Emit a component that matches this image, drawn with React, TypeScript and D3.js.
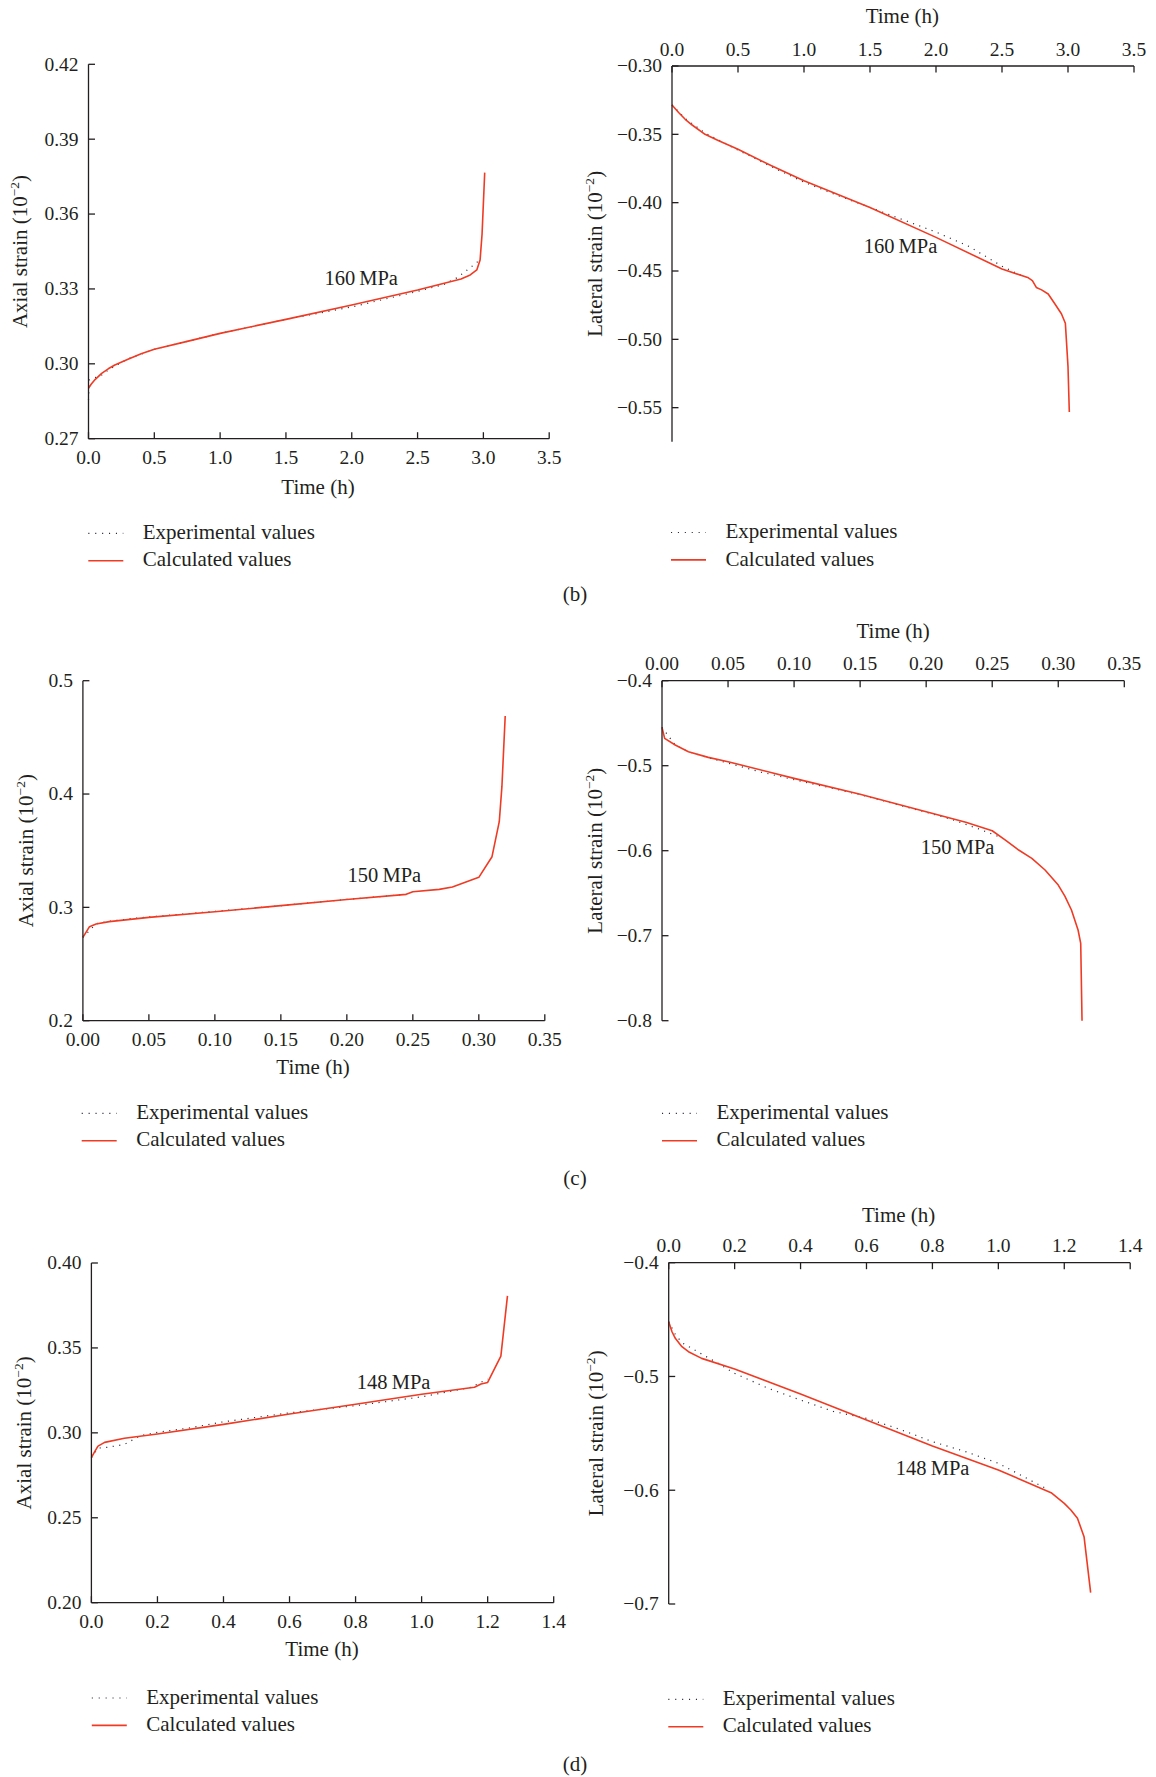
import React from "react";
import * as d3 from "d3";

type Pt = [number, number];

// ---- Data (time in h, strain in 10^-2) ----
const axial160Calc: Pt[] = [[0,0.2902],[0.02,0.2918],[0.05,0.2937],[0.1,0.2962],[0.15,0.298],[0.2,0.2995],[0.3,0.3018],[0.4,0.304],[0.5,0.3058],[0.75,0.309],[1.0,0.3122],[1.5,0.3178],[2.0,0.3236],[2.5,0.3296],[2.83,0.334],[2.9,0.3356],[2.95,0.3376],[2.975,0.3416],[2.99,0.352],[3.01,0.3766]];
const axial160Exp: Pt[] = [[0,0.2855],[0.005,0.2935],[0.1,0.2955],[0.15,0.2975],[0.3,0.302],[0.5,0.3058],[0.75,0.309],[1.0,0.3122],[1.5,0.3178],[2.0,0.3228],[2.5,0.329],[2.7,0.3318],[2.8,0.3345],[2.9,0.3385],[2.97,0.3415]];
const lateral160Calc: Pt[] = [[0,-0.3285],[0.05,-0.334],[0.1,-0.339],[0.15,-0.343],[0.25,-0.35],[0.35,-0.3545],[0.5,-0.3609],[0.75,-0.3728],[1.0,-0.384],[1.5,-0.4035],[2.0,-0.4254],[2.5,-0.4485],[2.7,-0.455],[2.73,-0.457],[2.76,-0.462],[2.8,-0.4638],[2.85,-0.4668],[2.9,-0.474],[2.95,-0.4813],[2.98,-0.4882],[3.0,-0.52],[3.01,-0.5532]];
const lateral160Exp: Pt[] = [[0,-0.3285],[0.1,-0.3385],[0.25,-0.349],[0.5,-0.3615],[0.75,-0.3735],[1.0,-0.385],[1.25,-0.3945],[1.5,-0.4035],[1.75,-0.4125],[2.0,-0.4215],[2.25,-0.432],[2.5,-0.4465],[2.65,-0.4535]];
const axial150Calc: Pt[] = [[0,0.2735],[0.005,0.283],[0.01,0.2853],[0.02,0.2874],[0.05,0.2912],[0.1,0.2962],[0.15,0.3015],[0.2,0.307],[0.245,0.3115],[0.25,0.3138],[0.27,0.3159],[0.28,0.318],[0.3,0.3265],[0.31,0.3447],[0.3155,0.3756],[0.3175,0.4065],[0.32,0.4688]];
const axial150Exp: Pt[] = [[0,0.2735],[0.01,0.2855],[0.02,0.2878],[0.04,0.2905],[0.06,0.2925],[0.08,0.2945],[0.1,0.2965],[0.15,0.3015],[0.2,0.307],[0.245,0.3115]];
const lateral150Calc: Pt[] = [[0,-0.4549],[0.002,-0.4678],[0.01,-0.4757],[0.02,-0.4835],[0.035,-0.4902],[0.05,-0.4953],[0.1,-0.5149],[0.15,-0.5337],[0.2,-0.5541],[0.23,-0.5665],[0.25,-0.5765],[0.26,-0.5875],[0.27,-0.5992],[0.28,-0.609],[0.29,-0.6227],[0.3,-0.6404],[0.305,-0.6535],[0.31,-0.6698],[0.315,-0.6933],[0.317,-0.709],[0.318,-0.8]];
const lateral150Exp: Pt[] = [[0,-0.4549],[0.01,-0.4757],[0.02,-0.4835],[0.035,-0.4905],[0.05,-0.497],[0.075,-0.5075],[0.1,-0.5165],[0.15,-0.534],[0.2,-0.5548],[0.22,-0.5635],[0.24,-0.5745],[0.255,-0.5835]];
const axial148Calc: Pt[] = [[0,0.2854],[0.01,0.2889],[0.02,0.2922],[0.04,0.2944],[0.1,0.2968],[0.2,0.2993],[0.4,0.305],[0.6,0.3111],[0.8,0.3168],[1.0,0.3227],[1.16,0.3268],[1.18,0.3288],[1.2,0.3297],[1.24,0.3452],[1.26,0.3806]];
const axial148Exp: Pt[] = [[0,0.2854],[0.02,0.291],[0.05,0.2915],[0.1,0.2932],[0.15,0.2985],[0.2,0.3003],[0.3,0.303],[0.4,0.3065],[0.6,0.3118],[0.8,0.316],[1.0,0.3212],[1.15,0.3268],[1.2,0.3317]];
const lateral148Calc: Pt[] = [[0,-0.4519],[0.01,-0.4607],[0.02,-0.4665],[0.04,-0.4738],[0.06,-0.4782],[0.1,-0.4841],[0.2,-0.4935],[0.4,-0.5154],[0.6,-0.5383],[0.8,-0.5611],[1.0,-0.5822],[1.16,-0.6022],[1.2,-0.6115],[1.22,-0.6174],[1.24,-0.6247],[1.26,-0.6408],[1.28,-0.69]];
const lateral148Exp: Pt[] = [[0,-0.4519],[0.02,-0.463],[0.04,-0.4703],[0.1,-0.4803],[0.15,-0.4885],[0.2,-0.4973],[0.3,-0.5102],[0.4,-0.5207],[0.5,-0.5308],[0.6,-0.5368],[0.7,-0.5463],[0.8,-0.5573],[0.9,-0.566],[1.0,-0.5763],[1.14,-0.5978]];

// tick values
const xTicks35 = [0, 0.5, 1.0, 1.5, 2.0, 2.5, 3.0, 3.5];
const xTicks035 = [0, 0.05, 0.1, 0.15, 0.2, 0.25, 0.3, 0.35];
const xTicks14 = [0, 0.2, 0.4, 0.6, 0.8, 1.0, 1.2, 1.4];
const yTicksAx160 = [0.27, 0.3, 0.33, 0.36, 0.39, 0.42];
const yTicksLat160 = [-0.3, -0.35, -0.4, -0.45, -0.5, -0.55];
const yTicksAx150 = [0.2, 0.3, 0.4, 0.5];
const yTicksLat150 = [-0.4, -0.5, -0.6, -0.7, -0.8];
const yTicksAx148 = [0.2, 0.25, 0.3, 0.35, 0.4];
const yTicksLat148 = [-0.4, -0.5, -0.6, -0.7];

const FONT = "'Liberation Serif', 'Times New Roman', serif";
const INK = "#231f20";
const RED = "#ef3b24";
const DOT = "#2a2a3a";

interface PanelProps {
  x0: number; x1: number;
  yTop: number; yBot: number;
  xDomain: [number, number];
  yDomain: [number, number];
  xTicks: number[]; xFmt: (v: number) => string;
  yTicks: number[]; yFmt: (v: number) => string;
  axisTop: boolean;
  calc: Pt[]; exp: Pt[];
  yTitle: string; yTitleX: number;
  xTitleX: number; xTitleY: number;
  label: string; labelX: number; labelY: number;
  legX: number; legY: number;
}

const fmtMinus = (s: string) => s.replace("-", "\u2212");

function Panel(p: PanelProps) {
  const x = d3.scaleLinear().domain(p.xDomain).range([p.x0, p.x1]);
  const y = d3.scaleLinear().domain(p.yDomain).range([p.yTop, p.yBot]);
  const line = d3.line<Pt>().x((d) => x(d[0])).y((d) => y(d[1]));
  const axisY = p.axisTop ? p.yTop : p.yBot;
  const tickDir = p.axisTop ? 1 : -1;
  const tl = 6.5;
  const yMid = (p.yTop + p.yBot) / 2;
  return (
    <g>
      <path d={line(p.exp) || ""} fill="none" stroke={DOT} strokeWidth={1.2} strokeDasharray="1.1,5.5" />
      <path d={line(p.calc) || ""} fill="none" stroke={RED} strokeWidth={1.6} strokeLinejoin="round" />
      <line x1={p.x0} x2={p.x0} y1={p.yTop} y2={p.yBot} stroke={INK} strokeWidth={1.3} />
      <line x1={p.x0} x2={p.x1} y1={axisY} y2={axisY} stroke={INK} strokeWidth={1.3} />
      {p.xTicks.map((t, i) => (
        <g key={"xt" + i}>
          <line x1={x(t)} x2={x(t)} y1={axisY} y2={axisY + tickDir * tl} stroke={INK} strokeWidth={1.3} />
          <text x={x(t)} y={p.axisTop ? axisY - 10.5 : axisY + 25} textAnchor="middle" fontSize={19.5} fill={INK} fontFamily={FONT}>
            {p.xFmt(t)}
          </text>
        </g>
      ))}
      {p.yTicks.map((t, i) => (
        <g key={"yt" + i}>
          <line x1={p.x0} x2={p.x0 + tl} y1={y(t)} y2={y(t)} stroke={INK} strokeWidth={1.3} />
          <text x={p.x0 - 10} y={y(t)} dy="0.33em" textAnchor="end" fontSize={19.5} fill={INK} fontFamily={FONT}>
            {fmtMinus(p.yFmt(t))}
          </text>
        </g>
      ))}
      <text x={p.xTitleX} y={p.xTitleY} textAnchor="middle" fontSize={21} fill={INK} fontFamily={FONT}>Time (h)</text>
      <text transform={`translate(${p.yTitleX},${yMid}) rotate(-90)`} textAnchor="middle" dy="0.33em" fontSize={21} fill={INK} fontFamily={FONT}>
        {p.yTitle} (10<tspan dy="-8" fontSize={13.5}>{"\u22122"}</tspan><tspan dy="8">)</tspan>
      </text>
      <text x={p.labelX} y={p.labelY} fontSize={20.5} fill={INK} fontFamily={FONT}>{p.label}</text>
      <line x1={p.legX} x2={p.legX + 35} y1={p.legY} y2={p.legY} stroke={DOT} strokeWidth={1.2} strokeDasharray="1.1,5.8" />
      <text x={p.legX + 54.5} y={p.legY + 5.5} fontSize={21} fill={INK} fontFamily={FONT}>Experimental values</text>
      <line x1={p.legX} x2={p.legX + 35} y1={p.legY + 27.4} y2={p.legY + 27.4} stroke={RED} strokeWidth={1.6} />
      <text x={p.legX + 54.5} y={p.legY + 33} fontSize={21} fill={INK} fontFamily={FONT}>Calculated values</text>
    </g>
  );
}

const f1 = (v: number) => v.toFixed(1);
const f2 = (v: number) => v.toFixed(2);

export default function App() {
  return (
    <svg width={1156} height={1777} style={{ position: "absolute", left: 0, top: 0, background: "#fff" }}>
      <rect width={1156} height={1777} fill="#fff" />
      <Panel x0={88.5} x1={549.2} yTop={64.3} yBot={438.7} xDomain={[0, 3.5]} yDomain={[0.42, 0.27]}
        xTicks={xTicks35} xFmt={f1} yTicks={yTicksAx160} yFmt={f2} axisTop={false}
        calc={axial160Calc} exp={axial160Exp} yTitle="Axial strain" yTitleX={20.3}
        xTitleX={318} xTitleY={494} label={"160\u2009MPa"} labelX={324.4} labelY={285}
        legX={88.3} legY={533.3} />
      <Panel x0={672} x1={1134} yTop={66} yBot={441.7} xDomain={[0, 3.5]} yDomain={[-0.3, -0.5749]}
        xTicks={xTicks35} xFmt={f1} yTicks={yTicksLat160} yFmt={f2} axisTop={true}
        calc={lateral160Calc} exp={lateral160Exp} yTitle="Lateral strain" yTitleX={594.6}
        xTitleX={902.3} xTitleY={23.3} label={"160\u2009MPa"} labelX={863.7} labelY={252.7}
        legX={671} legY={532.5} />
      <Panel x0={82.9} x1={544.8} yTop={680.7} yBot={1020.7} xDomain={[0, 0.35]} yDomain={[0.5, 0.2]}
        xTicks={xTicks035} xFmt={f2} yTicks={yTicksAx150} yFmt={f1} axisTop={false}
        calc={axial150Calc} exp={axial150Exp} yTitle="Axial strain" yTitleX={25.8}
        xTitleX={313} xTitleY={1074} label={"150\u2009MPa"} labelX={347.6} labelY={882}
        legX={81.7} legY={1113.3} />
      <Panel x0={662} x1={1124.3} yTop={680.7} yBot={1020.7} xDomain={[0, 0.35]} yDomain={[-0.4, -0.8]}
        xTicks={xTicks035} xFmt={f2} yTicks={yTicksLat150} yFmt={f1} axisTop={true}
        calc={lateral150Calc} exp={lateral150Exp} yTitle="Lateral strain" yTitleX={594.6}
        xTitleX={893.2} xTitleY={638.3} label={"150\u2009MPa"} labelX={920.8} labelY={854.3}
        legX={662} legY={1113.3} />
      <Panel x0={91.4} x1={553.7} yTop={1263} yBot={1602.7} xDomain={[0, 1.4]} yDomain={[0.4, 0.2]}
        xTicks={xTicks14} xFmt={f1} yTicks={yTicksAx148} yFmt={f2} axisTop={false}
        calc={axial148Calc} exp={axial148Exp} yTitle="Axial strain" yTitleX={24}
        xTitleX={322} xTitleY={1656} label={"148\u2009MPa"} labelX={356.8} labelY={1388.7}
        legX={91.8} legY={1698} />
      <Panel x0={668.7} x1={1130.2} yTop={1262.7} yBot={1604} xDomain={[0, 1.4]} yDomain={[-0.4, -0.7]}
        xTicks={xTicks14} xFmt={f1} yTicks={yTicksLat148} yFmt={f1} axisTop={true}
        calc={lateral148Calc} exp={lateral148Exp} yTitle="Lateral strain" yTitleX={596.4}
        xTitleX={898.7} xTitleY={1221.7} label={"148\u2009MPa"} labelX={895.8} labelY={1475.3}
        legX={668.3} legY={1699.3} />
      <text x={575} y={601} textAnchor="middle" fontSize={21} fill={INK} fontFamily={FONT}>(b)</text>
      <text x={575} y={1185} textAnchor="middle" fontSize={21} fill={INK} fontFamily={FONT}>(c)</text>
      <text x={575} y={1771} textAnchor="middle" fontSize={21} fill={INK} fontFamily={FONT}>(d)</text>
    </svg>
  );
}
